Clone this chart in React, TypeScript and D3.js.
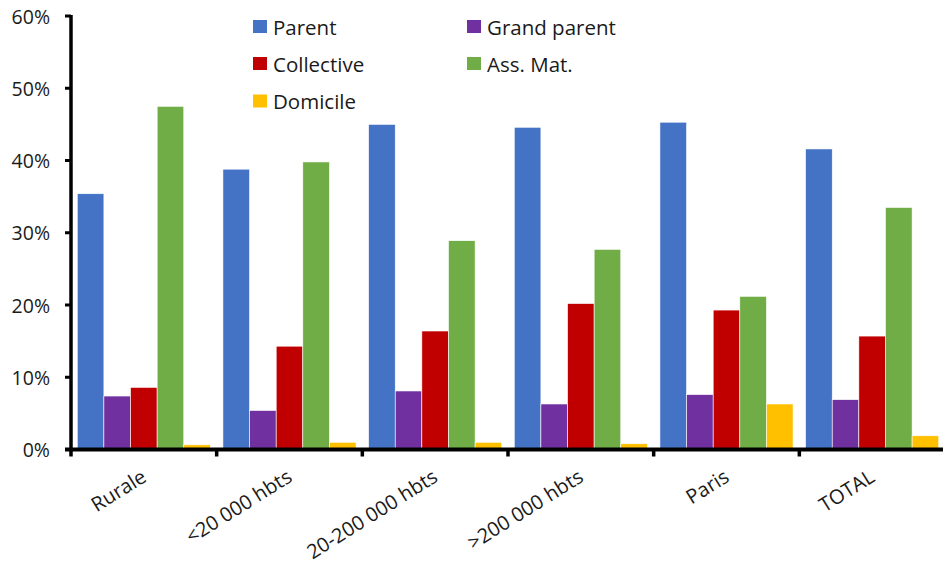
import React from "react";
import * as d3 from "d3";

const categories = ["Rurale", "<20 000 hbts", "20-200 000 hbts", ">200 000 hbts", "Paris", "TOTAL"];
const seriesNames = ["Parent", "Grand parent", "Collective", "Ass. Mat.", "Domicile"];
const seriesColors = ["#4472C4", "#7030A0", "#C00000", "#70AD47", "#FFC000"];

// Share of each childcare mode (%) per category, in category order
const parentValues = [35.4, 38.8, 45.0, 44.6, 45.3, 41.6];
const grandParentValues = [7.4, 5.4, 8.1, 6.3, 7.6, 6.9];
const collectiveValues = [8.6, 14.3, 16.4, 20.2, 19.3, 15.7];
const assMatValues = [47.5, 39.8, 28.9, 27.7, 21.2, 33.5];
const domicileValues = [0.65, 1.0, 1.0, 0.8, 6.3, 1.9];

const yTicks = [0, 10, 20, 30, 40, 50, 60];

const W = 943;
const H = 567;
const margin = { left: 71, right: -2, top: 16, bottom: 117 };
const FONT = "'Open Sans', 'Noto Sans', sans-serif";
const TEXT_COLOR = "#1a1a1a";

export default function App() {
  const series = [parentValues, grandParentValues, collectiveValues, assMatValues, domicileValues];

  const x0 = d3
    .scaleBand<string>()
    .domain(categories)
    .range([margin.left, W - margin.right])
    .paddingInner(0.086)
    .paddingOuter(0.043);
  const step = x0.step();
  const x1 = d3
    .scaleBand<string>()
    .domain(seriesNames)
    .range([0, x0.bandwidth()])
    .padding(0);
  const y = d3.scaleLinear().domain([0, 60]).range([H - margin.bottom - 0.5, margin.top]);
  const y0 = y(0);

  const tickXs = d3.range(categories.length + 1).map((i) => margin.left + i * step);

  const legendCols = [253, 467];
  const legendRows = [26.5, 63.5, 101];

  return (
    <div style={{ position: "absolute", left: 0, top: 0 }}>
      <svg width={W} height={H} style={{ display: "block", background: "#fff" }}>
        {/* bars */}
        {categories.map((c, ci) => (
          <g key={c} transform={`translate(${x0(c)},0)`}>
            {seriesNames.map((s, si) => {
              const v = series[si][ci];
              return (
                <rect
                  key={s}
                  x={x1(s)}
                  y={y(v)}
                  width={x1.bandwidth()}
                  height={y0 - y(v)}
                  fill={seriesColors[si]}
                  stroke="#fff"
                  strokeWidth={0.6}
                />
              );
            })}
          </g>
        ))}

        {/* y axis */}
        <line x1={margin.left} x2={margin.left} y1={y(60) - 1} y2={y0 + 2} stroke="#000" strokeWidth={3.5} />
        {yTicks.map((t) => (
          <g key={t}>
            <line x1={margin.left - 6} x2={margin.left} y1={y(t)} y2={y(t)} stroke="#000" strokeWidth={3} />
            <text
              x={50}
              y={y(t)}
              textAnchor="end"
              dominantBaseline="central"
              fontFamily={FONT}
              fontSize={19.5}
              fill={TEXT_COLOR}
            >
              {`${t}%`}
            </text>
          </g>
        ))}

        {/* x axis */}
        <line x1={margin.left - 6} x2={W} y1={y0} y2={y0} stroke="#000" strokeWidth={4} />
        {tickXs.map((tx, i) => (
          <line key={i} x1={tx} x2={tx} y1={y0} y2={y0 + 7} stroke="#000" strokeWidth={3.5} />
        ))}
        {categories.map((c) => {
          const cx = (x0(c) as number) + x0.bandwidth() / 2 + 4;
          return (
            <text
              key={c}
              transform={`translate(${cx},${y0 + 31}) rotate(-32)`}
              textAnchor="end"
              fontFamily={FONT}
              fontSize={20}
              fill={TEXT_COLOR}
            >
              {c}
            </text>
          );
        })}

        {/* legend */}
        {seriesNames.map((s, i) => {
          const lx = legendCols[i % 2];
          const ly = legendRows[Math.floor(i / 2)];
          return (
            <g key={s} transform={`translate(${lx},${ly})`}>
              <rect x={0} y={-6.5} width={14} height={13} fill={seriesColors[i]} />
              <text x={20} y={0} dominantBaseline="central" fontFamily={FONT} fontSize={20.5} fill={TEXT_COLOR}>
                {s}
              </text>
            </g>
          );
        })}
      </svg>
    </div>
  );
}
